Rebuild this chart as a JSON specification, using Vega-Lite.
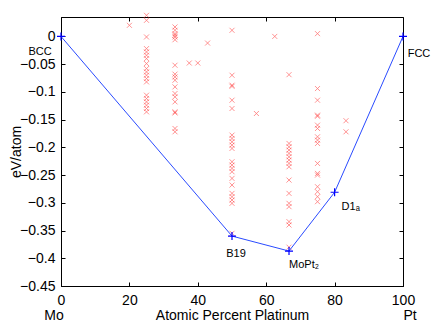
{
  "$schema": "https://vega.github.io/schema/vega-lite/v6.json",
  "width": 342,
  "height": 269,
  "autosize": {"type": "none"},
  "padding": {"left": 61, "top": 17, "right": 33, "bottom": 38},
  "background": "white",
  "config": {
    "view": {"stroke": "black", "strokeWidth": 1},
    "font": "Liberation Sans",
    "axis": {
      "labelFont": "Liberation Sans",
      "titleFont": "Liberation Sans",
      "labelFontSize": 14,
      "titleFontSize": 14,
      "titleFontWeight": "normal",
      "labelColor": "black",
      "titleColor": "black",
      "domainColor": "black",
      "tickColor": "black",
      "labelFlush": false,
      "labelOverlap": false,
      "grid": false
    }
  },
  "resolve": {"axis": {"x": "independent", "y": "independent"}},
  "datasets": {
    "hull": [
      {"pct": 0, "ev": 0, "label": "BCC"},
      {"pct": 50, "ev": -0.36, "label": "B19"},
      {"pct": 66.67, "ev": -0.387, "label": "MoPt₂"},
      {"pct": 80, "ev": -0.281, "label": "D1ₐ"},
      {"pct": 100, "ev": 0, "label": "FCC"}
    ],
    "ends": [
      {"pct": 0, "name": "Mo"},
      {"pct": 100, "name": "Pt"}
    ]
  },
  "layer": [
    {
      "data": {"values": [
        {"pct": 20, "ev": 0.020},
        {"pct": 25, "ev": 0.038}, {"pct": 25, "ev": 0.029}, {"pct": 25, "ev": -0.001}, {"pct": 25, "ev": -0.022},
        {"pct": 25, "ev": -0.028}, {"pct": 25, "ev": -0.034}, {"pct": 25, "ev": -0.040}, {"pct": 25, "ev": -0.049},
        {"pct": 25, "ev": -0.058}, {"pct": 25, "ev": -0.064}, {"pct": 25, "ev": -0.070}, {"pct": 25, "ev": -0.076},
        {"pct": 25, "ev": -0.082}, {"pct": 25, "ev": -0.106}, {"pct": 25, "ev": -0.112}, {"pct": 25, "ev": -0.118},
        {"pct": 25, "ev": -0.124}, {"pct": 25, "ev": -0.130}, {"pct": 25, "ev": -0.136},
        {"pct": 33.33, "ev": 0.017}, {"pct": 33.33, "ev": 0.011}, {"pct": 33.33, "ev": 0.005}, {"pct": 33.33, "ev": 0.002},
        {"pct": 33.33, "ev": -0.001}, {"pct": 33.33, "ev": -0.006}, {"pct": 33.33, "ev": -0.052}, {"pct": 33.33, "ev": -0.068},
        {"pct": 33.33, "ev": -0.073}, {"pct": 33.33, "ev": -0.079}, {"pct": 33.33, "ev": -0.091}, {"pct": 33.33, "ev": -0.103},
        {"pct": 33.33, "ev": -0.109}, {"pct": 33.33, "ev": -0.118}, {"pct": 33.33, "ev": -0.136}, {"pct": 33.33, "ev": -0.138},
        {"pct": 33.33, "ev": -0.166}, {"pct": 33.33, "ev": -0.172},
        {"pct": 37.5, "ev": -0.048}, {"pct": 40, "ev": -0.048}, {"pct": 42.86, "ev": -0.012},
        {"pct": 50, "ev": 0.011}, {"pct": 50, "ev": -0.070}, {"pct": 50, "ev": -0.088}, {"pct": 50, "ev": -0.090},
        {"pct": 50, "ev": -0.115}, {"pct": 50, "ev": -0.130}, {"pct": 50, "ev": -0.178}, {"pct": 50, "ev": -0.184},
        {"pct": 50, "ev": -0.190}, {"pct": 50, "ev": -0.196}, {"pct": 50, "ev": -0.202}, {"pct": 50, "ev": -0.226},
        {"pct": 50, "ev": -0.232}, {"pct": 50, "ev": -0.238}, {"pct": 50, "ev": -0.244}, {"pct": 50, "ev": -0.256},
        {"pct": 50, "ev": -0.268}, {"pct": 50, "ev": -0.283}, {"pct": 50, "ev": -0.289}, {"pct": 50, "ev": -0.295},
        {"pct": 50, "ev": -0.301}, {"pct": 50, "ev": -0.355},
        {"pct": 57.14, "ev": -0.139}, {"pct": 62.5, "ev": 0.0},
        {"pct": 66.67, "ev": -0.069}, {"pct": 66.67, "ev": -0.193}, {"pct": 66.67, "ev": -0.199}, {"pct": 66.67, "ev": -0.205},
        {"pct": 66.67, "ev": -0.211}, {"pct": 66.67, "ev": -0.217}, {"pct": 66.67, "ev": -0.223}, {"pct": 66.67, "ev": -0.229},
        {"pct": 66.67, "ev": -0.235}, {"pct": 66.67, "ev": -0.259}, {"pct": 66.67, "ev": -0.283}, {"pct": 66.67, "ev": -0.301},
        {"pct": 66.67, "ev": -0.307}, {"pct": 66.67, "ev": -0.334}, {"pct": 66.67, "ev": -0.340}, {"pct": 66.67, "ev": -0.380},
        {"pct": 75, "ev": 0.005}, {"pct": 75, "ev": -0.094}, {"pct": 75, "ev": -0.115}, {"pct": 75, "ev": -0.142},
        {"pct": 75, "ev": -0.144}, {"pct": 75, "ev": -0.160}, {"pct": 75, "ev": -0.166}, {"pct": 75, "ev": -0.181},
        {"pct": 75, "ev": -0.187}, {"pct": 75, "ev": -0.193}, {"pct": 75, "ev": -0.229}, {"pct": 75, "ev": -0.247},
        {"pct": 75, "ev": -0.250}, {"pct": 75, "ev": -0.271}, {"pct": 75, "ev": -0.280}, {"pct": 75, "ev": -0.289},
        {"pct": 75, "ev": -0.298},
        {"pct": 83.33, "ev": -0.152}, {"pct": 83.33, "ev": -0.172}
      ]},
      "mark": {"type": "point", "shape": "M-1,-1L1,1M-1,1L1,-1", "filled": false, "stroke": "#ff2020", "strokeWidth": 0.8, "opacity": 0.6, "size": 25},
      "encoding": {
        "x": {"field": "pct", "type": "quantitative", "scale": {"domain": [0, 100], "nice": false},
              "axis": {"orient": "bottom", "values": [0, 20, 40, 60, 80, 100], "title": "Atomic Percent Platinum", "tickSize": -4, "labelPadding": 11, "titlePadding": 1}},
        "y": {"field": "ev", "type": "quantitative", "scale": {"domain": [-0.45, 0.035], "nice": false, "zero": false},
              "axis": {"orient": "left", "values": [0, -0.05, -0.1, -0.15, -0.2, -0.25, -0.3, -0.35, -0.4, -0.45], "format": ".2~f", "title": "eV/atom", "tickSize": -4, "labelPadding": 10, "titlePadding": -4}}
      }
    },
    {
      "data": {"name": "hull"},
      "mark": {"type": "line", "stroke": "#2a4bff", "strokeWidth": 1},
      "encoding": {
        "x": {"field": "pct", "type": "quantitative", "axis": {"orient": "top", "labels": false, "domain": false, "title": null, "values": [0, 20, 40, 60, 80, 100], "tickSize": -4}},
        "y": {"field": "ev", "type": "quantitative", "axis": {"orient": "right", "labels": false, "domain": false, "title": null, "values": [0, -0.05, -0.1, -0.15, -0.2, -0.25, -0.3, -0.35, -0.4, -0.45], "tickSize": -4}}
      }
    },
    {
      "data": {"name": "hull"},
      "mark": {"type": "point", "shape": "M-1,0L1,0M0,-1L0,1", "filled": false, "stroke": "#0000ff", "strokeWidth": 1.2, "size": 64, "opacity": 1},
      "encoding": {
        "x": {"field": "pct", "type": "quantitative", "axis": null},
        "y": {"field": "ev", "type": "quantitative", "axis": null}
      }
    },
    {
      "data": {"name": "hull"},
      "transform": [{"filter": "datum.label == 'BCC'"}],
      "mark": {"type": "text", "fontSize": 11, "dx": -21, "dy": 16, "align": "center", "baseline": "middle", "color": "black"},
      "encoding": {"x": {"field": "pct", "type": "quantitative", "axis": null}, "y": {"field": "ev", "type": "quantitative", "axis": null}, "text": {"field": "label"}}
    },
    {
      "data": {"name": "hull"},
      "transform": [{"filter": "datum.label == 'FCC'"}],
      "mark": {"type": "text", "fontSize": 11, "dx": 16, "dy": 18, "align": "center", "baseline": "middle", "color": "black"},
      "encoding": {"x": {"field": "pct", "type": "quantitative", "axis": null}, "y": {"field": "ev", "type": "quantitative", "axis": null}, "text": {"field": "label"}}
    },
    {
      "data": {"name": "hull"},
      "transform": [{"filter": "datum.label == 'B19'"}],
      "mark": {"type": "text", "fontSize": 11, "dx": 4, "dy": 18, "align": "center", "baseline": "middle", "color": "black"},
      "encoding": {"x": {"field": "pct", "type": "quantitative", "axis": null}, "y": {"field": "ev", "type": "quantitative", "axis": null}, "text": {"field": "label"}}
    },
    {
      "data": {"name": "hull"},
      "transform": [{"filter": "datum.label == 'MoPt₂'"}],
      "mark": {"type": "text", "fontSize": 11, "dx": 0, "dy": 14, "align": "left", "baseline": "middle", "color": "black"},
      "encoding": {"x": {"field": "pct", "type": "quantitative", "axis": null}, "y": {"field": "ev", "type": "quantitative", "axis": null}, "text": {"field": "label"}}
    },
    {
      "data": {"name": "hull"},
      "transform": [{"filter": "datum.label == 'D1ₐ'"}],
      "mark": {"type": "text", "fontSize": 11, "dx": 7, "dy": 15, "align": "left", "baseline": "middle", "color": "black"},
      "encoding": {"x": {"field": "pct", "type": "quantitative", "axis": null}, "y": {"field": "ev", "type": "quantitative", "axis": null}, "text": {"field": "label"}}
    },
    {
      "data": {"name": "ends"},
      "transform": [{"filter": "datum.name == 'Mo'"}],
      "mark": {"type": "text", "fontSize": 14, "dx": -7, "dy": 30, "align": "center", "baseline": "middle", "color": "black"},
      "encoding": {"x": {"field": "pct", "type": "quantitative", "axis": null}, "y": {"datum": -0.45, "type": "quantitative", "axis": null}, "text": {"field": "name"}}
    },
    {
      "data": {"name": "ends"},
      "transform": [{"filter": "datum.name == 'Pt'"}],
      "mark": {"type": "text", "fontSize": 14, "dx": 7, "dy": 30, "align": "center", "baseline": "middle", "color": "black"},
      "encoding": {"x": {"field": "pct", "type": "quantitative", "axis": null}, "y": {"datum": -0.45, "type": "quantitative", "axis": null}, "text": {"field": "name"}}
    }
  ]
}
